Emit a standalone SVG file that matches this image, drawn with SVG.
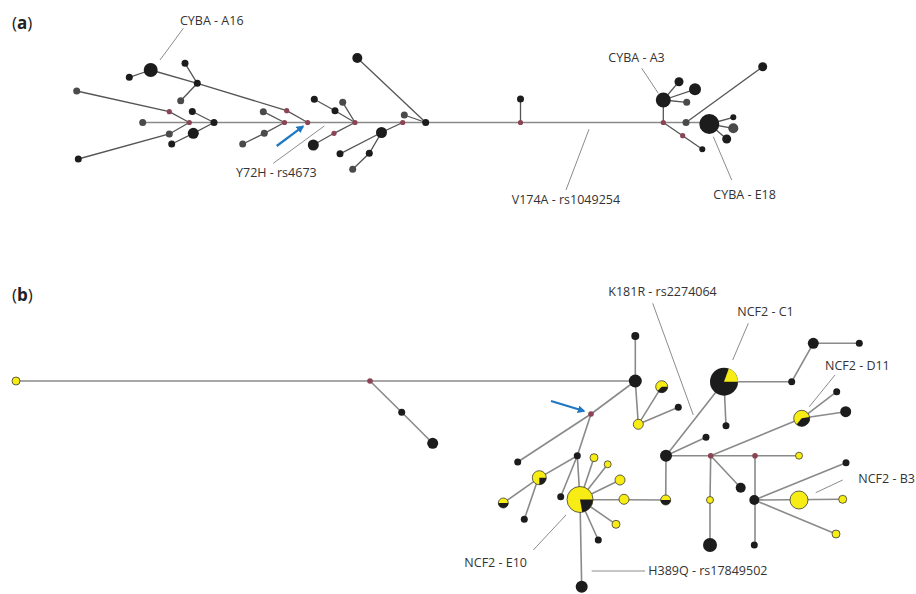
<svg xmlns="http://www.w3.org/2000/svg" width="916" height="594" viewBox="0 0 916 594">
<style>
.bg{fill:#fff}
.ea{fill:none;stroke:#555;stroke-width:1.3}
.eb{fill:none;stroke:#8a8a8a;stroke-width:1.6}
.main{fill:none;stroke:#8a8a8a;stroke-width:1.6}
.lead{fill:none;stroke:#8c8c8c;stroke-width:1}
.d{fill:#1c1c1c}
.g{fill:#4a4a4a}
.r{fill:#8a4454}
.y{fill:#f7ec14;stroke:#3a3a3a;stroke-width:0.8}
.k{fill:#1c1c1c}
.t{font-family:"Open Sans","Liberation Sans",sans-serif;font-size:12.5px;fill:#333}
.p{font-family:"Open Sans","Liberation Sans",sans-serif;font-size:17px;fill:#222}
.arr{fill:none;stroke:#1f78c1;stroke-width:2.2;marker-end:url(#ah)}
</style>
<defs>
<marker id="ah" viewBox="0 0 10 10" refX="8" refY="5" markerWidth="3.5" markerHeight="3.5" orient="auto" markerUnits="strokeWidth">
<path d="M0,0 L10,5 L0,10 Z" fill="#1f78c1"/>
</marker>
</defs>
<rect class="bg" x="0" y="0" width="916" height="594"/>

<text class="p" x="12" y="29">(<tspan font-weight="bold">a</tspan>)</text>
<text class="p" x="12" y="301">(<tspan font-weight="bold">b</tspan>)</text>

<g id="connectors">
<!-- panel a -->
<path class="main" d="M143,122.5 H709"/>
<path class="ea" d="M150.7,70 L197.3,83.3 L286.7,110.7 L307.7,122.5"/>
<path class="ea" d="M129.3,77.3 L150.7,70"/>
<path class="ea" d="M185,63.3 L197.3,83.3 L180.7,100.7"/>
<path class="ea" d="M76.7,91 L169.3,111.7 L189.3,122.5"/>
<path class="ea" d="M192.3,111.5 L214,122.5"/>
<path class="ea" d="M171.7,144 L193.3,133.3 L214,122.5"/>
<path class="ea" d="M78.3,159 L169.3,134 L189.3,122.5"/>
<path class="ea" d="M263.3,111.7 L284.5,122.5"/>
<path class="ea" d="M242.7,144 L264.3,133.3 L284.5,122.5"/>
<path class="ea" d="M314.3,99.3 L335,110.7 L355,122.5"/>
<path class="ea" d="M342.7,102.3 L355,122.5"/>
<path class="ea" d="M313.3,145 L334,133.3 L355,122.5"/>
<path class="ea" d="M352.7,169.3 L369.3,153.3 L381.5,132.5 L402.7,122.5"/>
<path class="ea" d="M340,153.8 L381.5,132.5"/>
<path class="ea" d="M404.3,115 L425.7,122.5"/>
<path class="ea" d="M357.3,58 L425.7,122.5"/>
<path class="ea" d="M520.5,99 V122.5"/>
<path class="ea" d="M663.3,100 V122.5"/>
<path class="ea" d="M663.3,100 L679,81.7 M663.3,100 L695,89.3 M663.3,100 L686.7,102.3"/>
<path class="ea" d="M686,122.5 L762.7,66.7"/>
<path class="ea" d="M709.3,124 L733.3,117.3 M709.3,124 L733.3,128.3 M709.3,124 L726.7,139"/>
<path class="ea" d="M663.3,122.5 L682.7,135.7 L702.3,149.3"/>
<!-- panel b -->
<path class="eb" d="M16,381 H635.3"/>
<path class="eb" d="M370,381 L401.7,412.3 L432.7,443.3"/>
<path class="eb" d="M635.3,336 V381"/>
<path class="eb" d="M635.3,381 L591,414 L517.7,462"/>
<path class="eb" d="M635.3,381 L638.3,424.3 L661.7,386.7 M638.3,424.3 L678.3,407.3"/>
<path class="eb" d="M591,414 L577.3,455.7"/>
<path class="eb" d="M577.3,455.7 L538.3,478.3 L503.3,503 M538.3,478.3 L524.3,519.3"/>
<path class="eb" d="M577.3,455.7 L560.7,496.7 M577.3,455.7 L580,499.5"/>
<path class="eb" d="M580,499.5 L594,457.7 M580,499.5 L607.7,464.3 M580,499.5 L620,480 M580,499.5 L665.7,500 M580,499.5 L616,524.3 M580,499.5 L598.3,540 M580,499.5 L581.7,586.7"/>
<path class="eb" d="M665.7,500 L666,455.7 L724,381.7"/>
<path class="eb" d="M666,455.7 L706,437.3"/>
<path class="eb" d="M666,455.7 H799"/>
<path class="eb" d="M710.7,455.7 L801.7,418.3 M710.7,455.7 L740.7,487.7 M710.7,455.7 L710,500 L710,545"/>
<path class="eb" d="M755,455.7 V545"/>
<path class="eb" d="M754.3,500 L846,462.7 M754.3,500 L842.7,499.3 M754.3,500 L836,534"/>
<path class="eb" d="M724,381.7 L791.7,381.7 L813.3,343.3 L859.3,343.3"/>
<path class="eb" d="M724,381.7 L726,425.7"/>
<path class="eb" d="M801.7,418.3 L836.7,391.7 M801.7,418.3 L845.7,411.7"/>
<!-- leader lines -->
<path class="lead" d="M183.3,28.3 L160,60"/>
<path class="lead" d="M324.3,126 L273.3,163.3"/>
<path class="lead" d="M589,129.3 L566,190"/>
<path class="lead" d="M641.7,68.3 L658.3,93.3"/>
<path class="lead" d="M713.3,136.7 L731.7,180"/>
<path class="lead" d="M652.7,303.3 L693.3,415"/>
<path class="lead" d="M748.3,323.3 L732.7,360"/>
<path class="lead" d="M835,375 L809.3,406.7"/>
<path class="lead" d="M842.7,480 L815.7,492.7"/>
<path class="lead" d="M533.3,550 L566,515"/>
<path class="lead" d="M591.7,571 H645"/>
<!-- arrows -->
<path class="arr" d="M276.7,146 L303,126.3"/>
<path class="arr" d="M551,401 L584,411"/>
</g>

<g id="panel-a-nodes">
<circle id="A16" class="d" cx="150.7" cy="70" r="7"/>
<circle class="d" cx="129.3" cy="77.3" r="3.5"/>
<circle class="d" cx="185" cy="63.3" r="3.5"/>
<circle class="d" cx="197.3" cy="83.3" r="3.5"/>
<circle class="d" cx="192.3" cy="111.5" r="3.5"/>
<circle class="d" cx="214" cy="122.5" r="3.5"/>
<circle class="d" cx="193.3" cy="133.3" r="5.5"/>
<circle class="d" cx="171.7" cy="144" r="3.5"/>
<circle class="d" cx="78.3" cy="159" r="3.5"/>
<circle class="d" cx="313.3" cy="145" r="5.5"/>
<circle class="d" cx="335" cy="110.7" r="3.5"/>
<circle class="d" cx="314.3" cy="99.3" r="3.5"/>
<circle class="d" cx="381.5" cy="132.5" r="5.5"/>
<circle class="d" cx="369.3" cy="153.3" r="3.5"/>
<circle class="d" cx="340" cy="153.8" r="3.5"/>
<circle class="d" cx="425.7" cy="122.5" r="3.5"/>
<circle class="d" cx="357.3" cy="58" r="5"/>
<circle class="d" cx="520.5" cy="99" r="3.5"/>
<circle id="A3" class="d" cx="663.3" cy="100" r="7.5"/>
<circle class="d" cx="679" cy="81.7" r="4.5"/>
<circle class="d" cx="695" cy="89.3" r="6"/>
<circle id="E18" class="d" cx="709.3" cy="124" r="10"/>
<circle class="d" cx="762.7" cy="66.7" r="4.5"/>
<circle class="d" cx="733.3" cy="117.3" r="3"/>
<circle class="d" cx="726.7" cy="139" r="4.5"/>
<circle class="d" cx="702.3" cy="149.3" r="3"/>
<circle class="g" cx="76.7" cy="91" r="3.5"/>
<circle class="g" cx="142.7" cy="122.5" r="3.5"/>
<circle class="g" cx="180.7" cy="100.7" r="3.5"/>
<circle class="g" cx="169.3" cy="134" r="3.5"/>
<circle class="g" cx="263.3" cy="111.7" r="3.5"/>
<circle class="g" cx="264.3" cy="133.3" r="3.5"/>
<circle class="g" cx="242.7" cy="144" r="3.5"/>
<circle class="g" cx="342.7" cy="102.3" r="3.5"/>
<circle class="g" cx="352.7" cy="169.3" r="3.5"/>
<circle class="g" cx="404.3" cy="115" r="3.5"/>
<circle class="g" cx="686.7" cy="102.3" r="3.5"/>
<circle class="g" cx="686" cy="122.5" r="3.5"/>
<circle class="g" cx="733.3" cy="128.3" r="5"/>
<circle class="r" cx="169.3" cy="111.7" r="2.6"/>
<circle class="r" cx="189.3" cy="122.5" r="2.6"/>
<circle class="r" cx="284.5" cy="122.5" r="2.6"/>
<circle class="r" cx="286.7" cy="110.7" r="2.6"/>
<circle class="r" cx="307.7" cy="122.5" r="2.6"/>
<circle class="r" cx="355" cy="122.5" r="2.6"/>
<circle class="r" cx="334" cy="133.3" r="2.6"/>
<circle class="r" cx="402.7" cy="122.5" r="2.6"/>
<circle class="r" cx="520.5" cy="122.5" r="2.6"/>
<circle class="r" cx="663.3" cy="122.5" r="2.6"/>
<circle class="r" cx="682.7" cy="135.7" r="2.6"/>
</g>

<g id="panel-b-nodes">
<circle class="y" cx="16" cy="381" r="4"/>
<circle class="y" cx="638.3" cy="424.3" r="5"/>
<circle class="y" cx="594" cy="457.7" r="4"/>
<circle class="y" cx="607.7" cy="464.3" r="3.5"/>
<circle class="y" cx="620" cy="480" r="5"/>
<circle class="y" cx="624" cy="499.3" r="5"/>
<circle class="y" cx="616" cy="524.3" r="4"/>
<circle class="y" cx="710" cy="500" r="3.5"/>
<circle class="y" cx="799" cy="455.7" r="3.5"/>
<circle id="B3" class="y" cx="799" cy="500" r="9"/>
<circle class="y" cx="842.7" cy="499.3" r="4"/>
<circle class="y" cx="836" cy="534" r="4"/>
<circle class="d" cx="401.7" cy="412.3" r="3.5"/>
<circle class="d" cx="432.7" cy="443.3" r="5.5"/>
<circle class="d" cx="635.3" cy="336" r="4"/>
<circle class="d" cx="635.3" cy="381" r="6.5"/>
<circle class="d" cx="678.3" cy="407.3" r="3.5"/>
<circle class="d" cx="517.7" cy="462" r="3.5"/>
<circle class="d" cx="577.3" cy="455.7" r="3.5"/>
<circle class="d" cx="524.3" cy="519.3" r="3.5"/>
<circle class="d" cx="560.7" cy="496.7" r="3.5"/>
<circle class="d" cx="598.3" cy="540" r="3.5"/>
<circle class="d" cx="581.7" cy="586.7" r="6"/>
<circle class="d" cx="666" cy="455.7" r="6"/>
<circle class="d" cx="706" cy="437.3" r="3.5"/>
<circle class="d" cx="740.7" cy="487.7" r="5"/>
<circle class="d" cx="710" cy="545" r="7"/>
<circle class="d" cx="754.3" cy="500" r="5"/>
<circle class="d" cx="754.3" cy="545" r="3.5"/>
<circle class="d" cx="846" cy="462.7" r="3.5"/>
<circle class="d" cx="791.7" cy="381.7" r="3.5"/>
<circle class="d" cx="813.3" cy="343.3" r="5.5"/>
<circle class="d" cx="859.3" cy="343.3" r="3.5"/>
<circle class="d" cx="726" cy="425.7" r="3.5"/>
<circle class="d" cx="836.7" cy="391.7" r="3.5"/>
<circle class="d" cx="845.7" cy="411.7" r="5.5"/>
<circle class="r" cx="370" cy="381" r="2.8"/>
<circle class="r" cx="591" cy="414" r="2.8"/>
<circle class="r" cx="710.7" cy="455.7" r="2.8"/>
<circle class="r" cx="755" cy="455.7" r="2.8"/>
<g id="C1">
<circle class="d" cx="724" cy="381.7" r="14"/>
<path d="M724,381.7 L728.8,368.5 A14,14 0 0 1 738,381.7 Z" fill="#f7ec14"/>
</g>
<g id="E10">
<circle class="y" cx="580" cy="499.5" r="13"/>
<path class="k" d="M580,499.5 L593,499.5 A13,13 0 0 1 582.3,512.3 Z"/>
</g>
<g id="D11">
<circle class="y" cx="801.7" cy="418.3" r="8"/>
<path class="k" d="M801.7,418.3 L809.6,416.9 A8,8 0 0 1 796.6,424.4 Z"/>
</g>
<g id="pie1">
<circle class="y" cx="661.7" cy="386.7" r="6"/>
<path class="k" d="M661.7,386.7 L667.7,386.7 A6,6 0 0 1 657.5,390.9 Z"/>
</g>
<g id="pie2">
<circle class="y" cx="539.3" cy="477.7" r="7"/>
<path class="k" d="M539.3,477.7 L546.3,477.7 A7,7 0 0 1 539.3,484.7 Z"/>
</g>
<g id="pie3">
<circle class="y" cx="503.3" cy="503" r="5"/>
<path class="k" d="M498.3,503 A5,5 0 0 0 508.3,503 Z"/>
</g>
<g id="pie4">
<circle class="y" cx="665.7" cy="500" r="5"/>
<path class="k" d="M660.7,500 A5,5 0 0 0 670.7,500 Z"/>
</g>
</g>

<g id="labels">
<text class="t" x="180" y="25">CYBA - A16</text>
<text class="t" x="236" y="177">Y72H - rs4673</text>
<text class="t" x="511.7" y="204">V174A - rs1049254</text>
<text class="t" x="608.3" y="61.5">CYBA - A3</text>
<text class="t" x="713.3" y="199">CYBA - E18</text>
<text class="t" x="608.3" y="296">K181R - rs2274064</text>
<text class="t" x="737.3" y="316">NCF2 - C1</text>
<text class="t" x="825" y="370">NCF2 - D11</text>
<text class="t" x="858.3" y="483">NCF2 - B3</text>
<text class="t" x="527" y="567" text-anchor="end">NCF2 - E10</text>
<text class="t" x="648.3" y="575">H389Q - rs17849502</text>
</g>
</svg>
